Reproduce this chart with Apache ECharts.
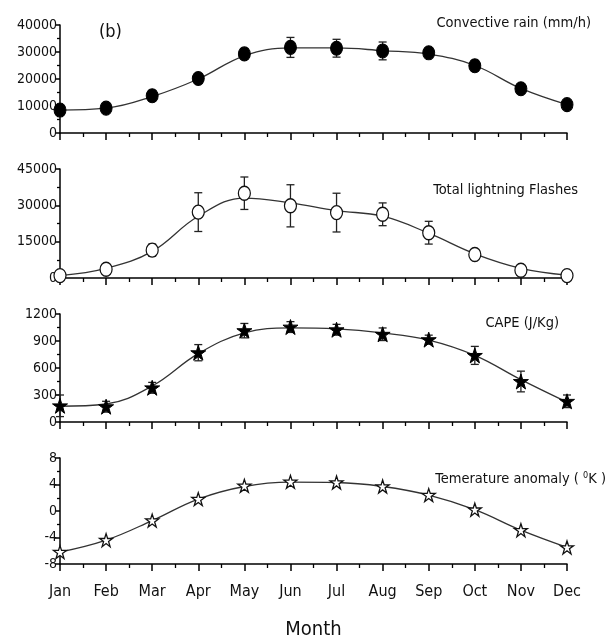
<!DOCTYPE html>
<html><head><meta charset="utf-8">
<script src="https://cdn.jsdelivr.net/npm/echarts@6/dist/echarts.min.js"></script>
<style>html,body{margin:0;padding:0;background:#fff}#c{width:613px;height:641px}</style>
</head><body><div id="c"></div>
<script>
const months = ['Jan','Feb','Mar','Apr','May','Jun','Jul','Aug','Sep','Oct','Nov','Dec'];

const rainMean = [8500, 9200, 13800, 20200, 29300, 31700, 31400, 30400, 29700, 24900, 16400, 10500];
const rainErr  = [1500, 1500, 2000, 1500, 2000, 3700, 3300, 3300, 1500, 2000, 1500, 1000];
const rainFit  = [8500, 9200, 13500, 20000, 28600, 31500, 31500, 30500, 29200, 25000, 16500, 10500];

const flashMean = [1000, 3600, 11500, 27200, 35000, 29800, 27000, 26300, 18700, 9700, 3200, 1000];
const flashErr  = [500, 1000, 2500, 8000, 6700, 8700, 8000, 4700, 4700, 1500, 1500, 500];
const flashFit  = [1000, 4000, 11000, 25500, 33000, 31000, 27800, 25500, 18500, 10000, 4000, 1200];

const capeMean = [180, 170, 380, 770, 1015, 1055, 1025, 975, 915, 740, 450, 230];
const capeErr  = [120, 60, 60, 90, 80, 60, 60, 70, 50, 100, 115, 70];
const capeFit  = [175, 200, 400, 760, 990, 1045, 1035, 990, 910, 740, 470, 220];

const tempMean = [-6.2, -4.4, -1.45, 1.8, 3.8, 4.4, 4.3, 3.7, 2.4, 0.2, -2.9, -5.5];
const tempFit  = [-6.2, -4.4, -1.45, 1.8, 3.7, 4.35, 4.3, 3.7, 2.4, 0.2, -2.9, -5.5];

const yTicks = [
  {min:0, max:40000, interval:10000},
  {min:0, max:45000, interval:15000},
  {min:0, max:1200, interval:300},
  {min:-8, max:8, interval:4}
];

const FONT = '"DejaVu Sans Condensed","Liberation Sans",Arial,sans-serif';
const grids = [
  {left:60, right:46, top:25, height:108},
  {left:60, right:46, top:169, height:109},
  {left:60, right:46, top:314, height:108},
  {left:60, right:46, top:458, height:107}
];

const xAxes = grids.map((g,i)=>({
  type:'value', gridIndex:i, min:0, max:11, interval:1,
  axisLine:{show:true, onZero:false, lineStyle:{color:'#000', width:1.5}},
  axisTick:{show:true, inside:false, length:7, lineStyle:{color:'#000', width:1.5}},
  minorTick:{show:true, splitNumber:2, length:4, lineStyle:{color:'#000', width:1.3}},
  splitLine:{show:false},
  axisLabel:{show:i===3, margin:20, color:'#111', fontFamily:FONT, fontSize:16,
    formatter:v=>months[Math.round(v)]||''},
  name: i===3 ? 'Month' : '',
  nameLocation:'middle', nameGap:56,
  nameTextStyle:{color:'#111', fontFamily:FONT, fontSize:20}
}));
const yAxes = grids.map((g,i)=>({
  type:'value', gridIndex:i, min:yTicks[i].min, max:yTicks[i].max, interval:yTicks[i].interval,
  axisLine:{show:true, onZero:false, lineStyle:{color:'#000', width:1.5}},
  axisTick:{show:true, inside:false, length:5, lineStyle:{color:'#000', width:1.5}},
  minorTick:{show:true, splitNumber:2, length:3, lineStyle:{color:'#000', width:1.3}},
  splitLine:{show:false},
  axisLabel:{margin:3, color:'#111', fontFamily:FONT, fontSize:14, formatter:v=>String(v)}
}));

function errSeries(i, mean, err){
  return {
    type:'custom', xAxisIndex:i, yAxisIndex:i, z:3,
    data: mean.map((m,k)=>[k, m-err[k], m+err[k]]),
    renderItem:(params, api)=>{
      const lo = api.coord([api.value(0), api.value(1)]);
      const hi = api.coord([api.value(0), api.value(2)]);
      const w = 4;
      const st = {stroke:'#222', lineWidth:1.3};
      return {type:'group', children:[
        {type:'line', shape:{x1:lo[0],y1:lo[1],x2:hi[0],y2:hi[1]}, style:st},
        {type:'line', shape:{x1:lo[0]-w,y1:lo[1],x2:lo[0]+w,y2:lo[1]}, style:st},
        {type:'line', shape:{x1:hi[0]-w,y1:hi[1],x2:hi[0]+w,y2:hi[1]}, style:st}
      ]};
    }
  };
}
function fitSeries(i, fit){
  return {type:'line', xAxisIndex:i, yAxisIndex:i, smooth:0.4, symbol:'none', z:2,
    lineStyle:{color:'#333', width:1.3}, data: fit.map((v,k)=>[k,v])};
}
function ptSeries(i, mean, symbol, size, filled){
  return {type:'scatter', xAxisIndex:i, yAxisIndex:i, clip:true, z:4,
    symbol, symbolSize:size,
    itemStyle: filled ? {color:'#000', borderColor:'#000', borderWidth:1, opacity:1}
                      : {color:'#fff', borderColor:'#111', borderWidth:1.3, opacity:1},
    data: mean.map((v,k)=>[k,v])};
}

const starPath = 'path://M50,0 L61.8,35.4 L100,35.4 L69.1,57.3 L80.9,95.1 L50,72.4 L19.1,95.1 L30.9,57.3 L0,35.4 L38.2,35.4 Z';

const titleStyle = {color:'#111', fontFamily:FONT, fontSize:14.5, fontWeight:'normal'};
const option = {
  animation:false,
  backgroundColor:'#fff',
  title:[
    {text:'(b)', left:94, top:18, textStyle:{...titleStyle, fontSize:18}},
    {text:'Convective rain (mm/h)', right:17, top:11, textStyle:titleStyle},
    {text:'Total lightning Flashes', right:30, top:178, textStyle:titleStyle},
    {text:'CAPE (J/Kg)', right:49, top:311, textStyle:titleStyle},
    {text:'Temerature anomaly ( {s|0}K )', right:2, top:466,
      textStyle:{...titleStyle, rich:{s:{fontSize:9, verticalAlign:'top', fontFamily:FONT, color:'#111', padding:[0,0,8,0]}}}}
  ],
  grid: grids,
  xAxis: xAxes,
  yAxis: yAxes,
  series:[
    fitSeries(0, rainFit), errSeries(0, rainMean, rainErr), ptSeries(0, rainMean, 'circle', [12,14], true),
    fitSeries(1, flashFit), errSeries(1, flashMean, flashErr), ptSeries(1, flashMean, 'circle', [12,14], false),
    fitSeries(2, capeFit), errSeries(2, capeMean, capeErr), ptSeries(2, capeMean, starPath, 15, true),
    fitSeries(3, tempFit), ptSeries(3, tempMean, starPath, 13, false)
  ]
};
const chart = echarts.init(document.getElementById('c'), null, {renderer:'canvas'});
chart.setOption(option);
</script></body></html>
